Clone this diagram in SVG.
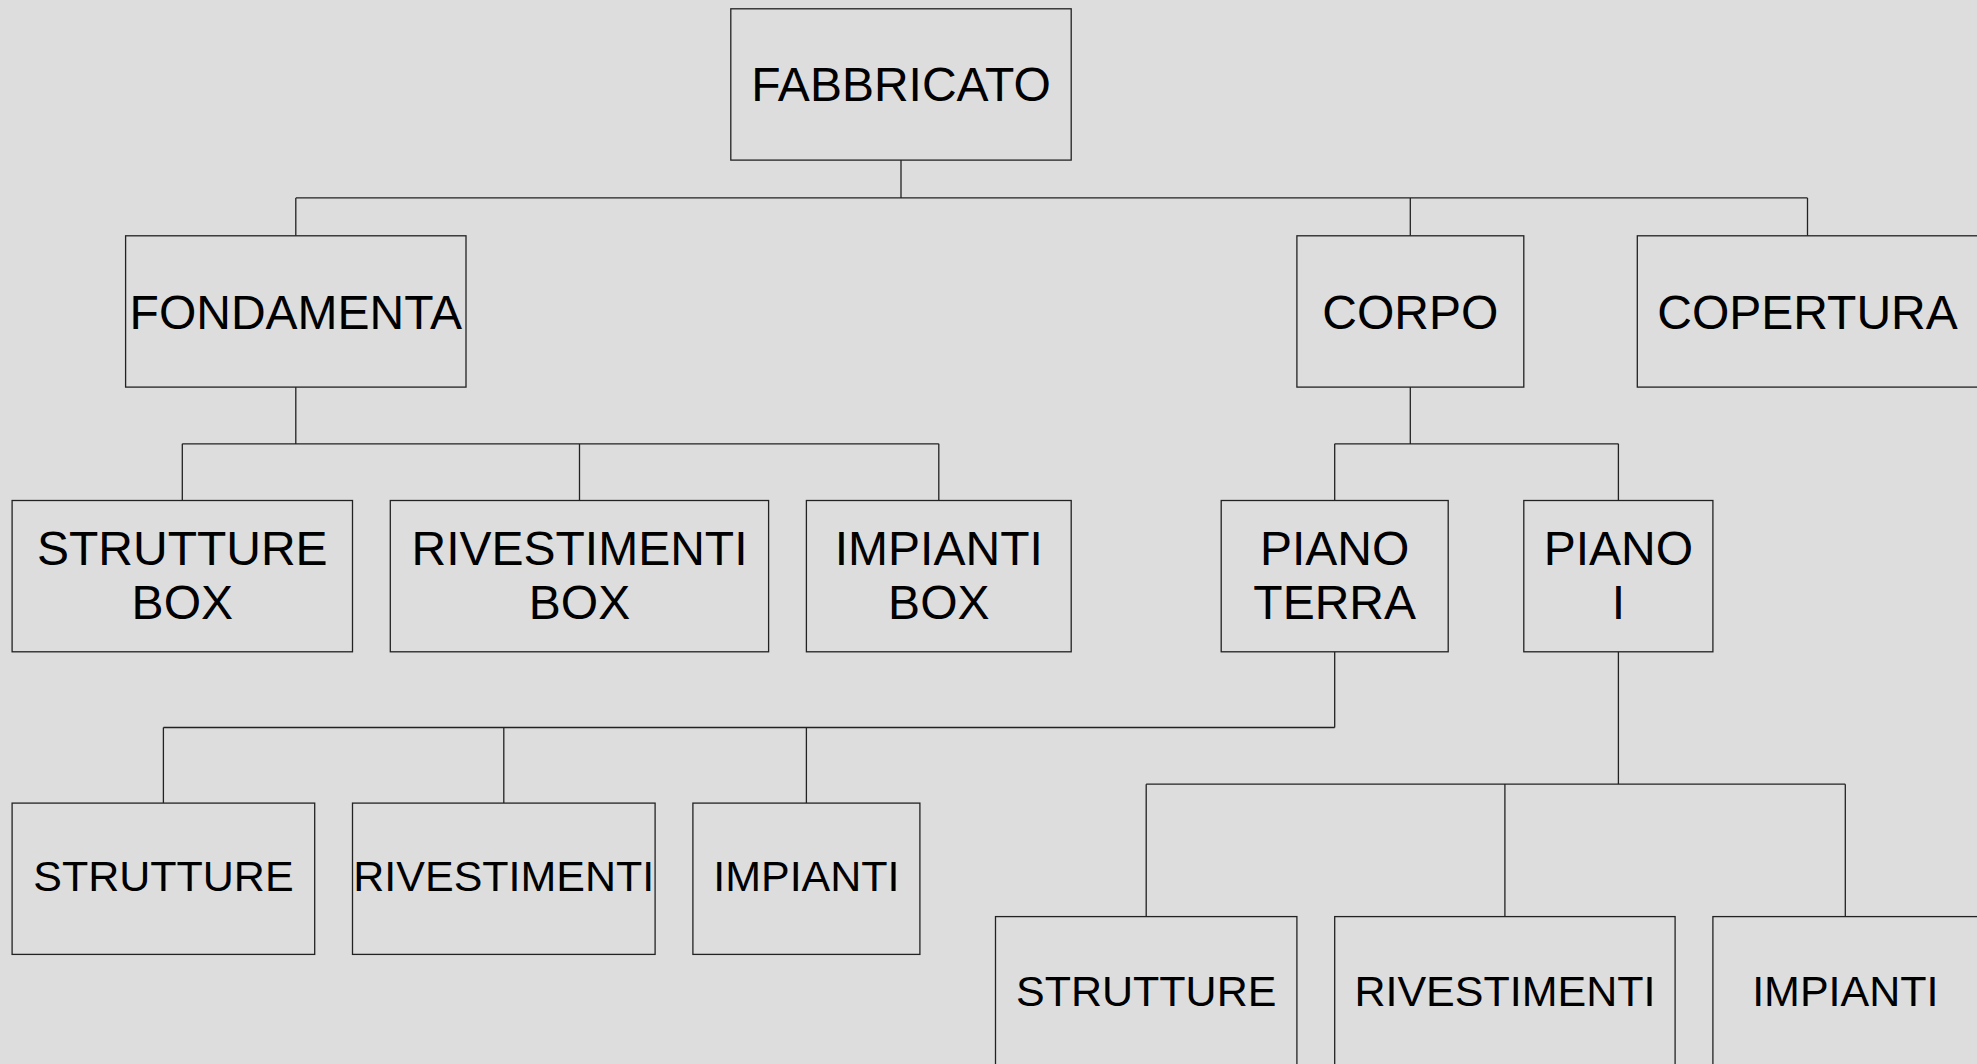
<svg xmlns="http://www.w3.org/2000/svg" width="1977" height="1064" viewBox="0 0 1977 1064">
<style>
.bg{fill:#dddddd}
.box{fill:#dddddd;stroke:#222222;stroke-width:1.3}
.lbl{font-family:"Liberation Sans",Arial,sans-serif;fill:#000000;text-anchor:middle}
.l1{font-size:48px}
.l2{font-size:43px}
.conn{fill:none;stroke:#222222;stroke-width:1.3}
</style>
<rect class="bg" x="0" y="0" width="1977" height="1064"/>
<g id="connectors">
<path class="conn" d="M901,160 V197.9 M295.8,197.9 H1807.5 M295.8,197.9 V235.8 M1410.3,197.9 V235.8 M1807.5,197.9 V235.8"/>
<path class="conn" d="M295.8,387 V443.8 M182.3,443.8 H938.8 M182.3,443.8 V500.5 M579.5,443.8 V500.5 M938.8,443.8 V500.5"/>
<path class="conn" d="M1410.3,387 V443.8 M1334.7,443.8 H1618.4 M1334.7,443.8 V500.5 M1618.4,443.8 V500.5"/>
<path class="conn" d="M1334.7,651.8 V727.5 M163.4,727.5 H1334.7 M163.4,727.5 V803.1 M503.8,727.5 V803.1 M806.4,727.5 V803.1"/>
<path class="conn" d="M1618.4,651.8 V784.2 M1146.2,784.2 H1845.3 M1146.2,784.2 V916.6 M1504.9,784.2 V916.6 M1845.3,784.2 V916.6"/>
</g>
<g id="fabbricato">
<rect class="box" x="730.8" y="8.8" width="340.4" height="151.3"/>
<text class="lbl l1" x="901" y="100.5">FABBRICATO</text>
</g>
<g id="fondamenta">
<rect class="box" x="125.6" y="235.8" width="340.4" height="151.3"/>
<text class="lbl l1" x="295.8" y="328.5">FONDAMENTA</text>
</g>
<g id="corpo">
<rect class="box" x="1296.9" y="235.8" width="226.9" height="151.3"/>
<text class="lbl l1" x="1410.3" y="328.5">CORPO</text>
</g>
<g id="copertura">
<rect class="box" x="1637.3" y="235.8" width="360" height="151.3"/>
<text class="lbl l1" x="1807.5" y="328.5">COPERTURA</text>
</g>
<g id="strutture-box">
<rect class="box" x="12.1" y="500.5" width="340.4" height="151.3"/>
<text class="lbl l1" x="182.3" y="565">STRUTTURE</text>
<text class="lbl l1" x="182.3" y="619">BOX</text>
</g>
<g id="rivestimenti-box">
<rect class="box" x="390.3" y="500.5" width="378.3" height="151.3"/>
<text class="lbl l1" x="579.5" y="565">RIVESTIMENTI</text>
<text class="lbl l1" x="579.5" y="619">BOX</text>
</g>
<g id="impianti-box">
<rect class="box" x="806.4" y="500.5" width="264.8" height="151.3"/>
<text class="lbl l1" x="938.8" y="565">IMPIANTI</text>
<text class="lbl l1" x="938.8" y="619">BOX</text>
</g>
<g id="piano-terra">
<rect class="box" x="1221.2" y="500.5" width="227" height="151.3"/>
<text class="lbl l1" x="1334.7" y="565">PIANO</text>
<text class="lbl l1" x="1334.7" y="619">TERRA</text>
</g>
<g id="piano-i">
<rect class="box" x="1523.8" y="500.5" width="189.1" height="151.3"/>
<text class="lbl l1" x="1618.4" y="565">PIANO</text>
<text class="lbl l1" x="1618.4" y="619">I</text>
</g>
<g id="pt-strutture">
<rect class="box" x="12.1" y="803.1" width="302.6" height="151.3"/>
<text class="lbl l2" x="163.4" y="891">STRUTTURE</text>
</g>
<g id="pt-rivestimenti">
<rect class="box" x="352.5" y="803.1" width="302.6" height="151.3"/>
<text class="lbl l2" x="503.8" y="891">RIVESTIMENTI</text>
</g>
<g id="pt-impianti">
<rect class="box" x="692.9" y="803.1" width="227" height="151.3"/>
<text class="lbl l2" x="806.4" y="891">IMPIANTI</text>
</g>
<g id="pi-strutture">
<rect class="box" x="995.5" y="916.6" width="301.4" height="151.3"/>
<text class="lbl l2" x="1146.2" y="1006">STRUTTURE</text>
</g>
<g id="pi-rivestimenti">
<rect class="box" x="1334.7" y="916.6" width="340.4" height="151.3"/>
<text class="lbl l2" x="1504.9" y="1006">RIVESTIMENTI</text>
</g>
<g id="pi-impianti">
<rect class="box" x="1712.9" y="916.6" width="290" height="151.3"/>
<text class="lbl l2" x="1845.3" y="1006">IMPIANTI</text>
</g>
</svg>
